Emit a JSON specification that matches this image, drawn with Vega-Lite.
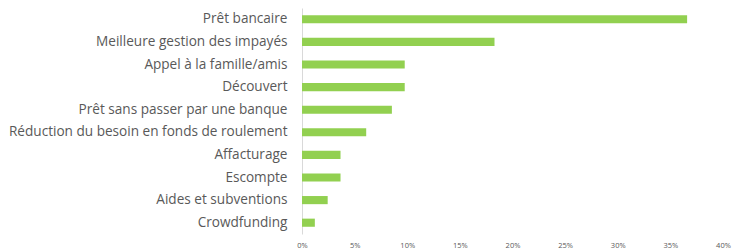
{
  "$schema": "https://vega.github.io/schema/vega-lite/v6.json",
  "width": 421,
  "height": 226,
  "autosize": {"type": "none"},
  "padding": {"left": 302, "top": 8, "right": 9, "bottom": 16},
  "background": "white",
  "data": {"values": [
    {"cat": "Prêt bancaire", "v": 0.3659},
    {"cat": "Meilleure gestion des impayés", "v": 0.1829},
    {"cat": "Appel à la famille/amis", "v": 0.0976},
    {"cat": "Découvert", "v": 0.0976},
    {"cat": "Prêt sans passer par une banque", "v": 0.0854},
    {"cat": "Réduction du besoin en fonds de roulement", "v": 0.0610},
    {"cat": "Affacturage", "v": 0.0366},
    {"cat": "Escompte", "v": 0.0366},
    {"cat": "Aides et subventions", "v": 0.0244},
    {"cat": "Crowdfunding", "v": 0.0122}
  ]},
  "mark": {"type": "bar", "color": "#92D050"},
  "encoding": {
    "y": {"field": "cat", "type": "nominal", "sort": null,
      "scale": {"paddingInner": 0.64, "paddingOuter": 0.32},
      "axis": {"title": null, "ticks": false, "domainColor": "#D9D9D9", "labelFont": "Open Sans", "labelFontSize": 13.6, "labelColor": "#595959", "labelPadding": 15, "labelLimit": 320}},
    "x": {"field": "v", "type": "quantitative",
      "scale": {"domain": [0, 0.4], "nice": false},
      "axis": {"title": null, "format": ".0%", "values": [0, 0.05, 0.1, 0.15, 0.2, 0.25, 0.3, 0.35, 0.4], "grid": false, "domain": false, "ticks": false, "labelFont": "Open Sans", "labelFontSize": 7.5, "labelColor": "#595959", "labelPadding": 7, "labelFlush": false}}
  },
  "config": {"view": {"stroke": null}}
}
